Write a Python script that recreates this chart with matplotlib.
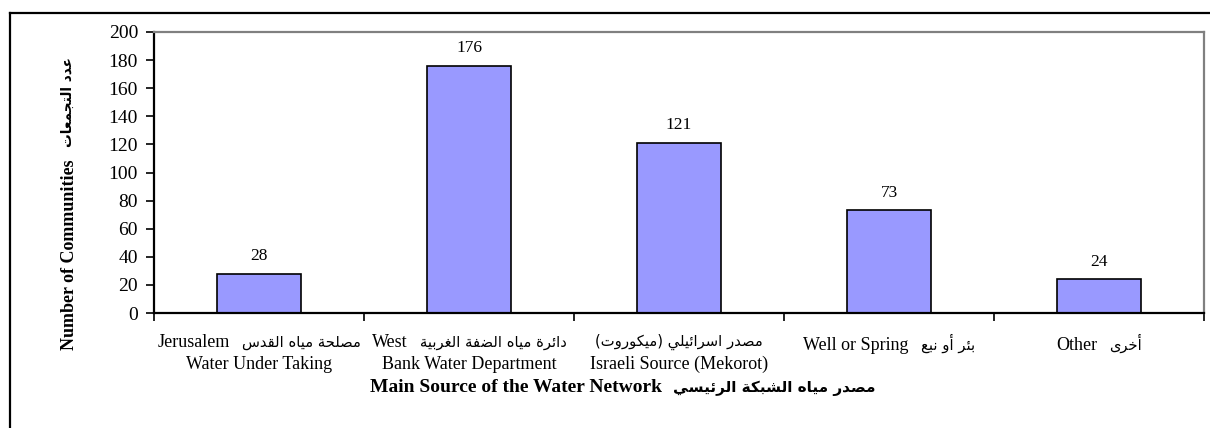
import matplotlib
matplotlib.use('Agg')
import matplotlib.pyplot as plt
from matplotlib.lines import Line2D
from matplotlib.offsetbox import TextArea, HPacker, VPacker, AnnotationBbox

# data
categories_en = ['Jerusalem', 'West', '', 'Well or Spring', 'Other']
categories_ar = ['مصلحة مياه القدس', 'دائرة مياه الضفة الغربية', 'مصدر اسرائيلي (ميكوروت)', 'بئر أو نبع', 'أخرى']
second_line = ['Water Under Taking', 'Bank Water Department', 'Israeli Source (Mekorot)', '', '']
values = [28, 176, 121, 73, 24]

ylabel_en = 'Number of Communities'
ylabel_ar = 'عدد التجمعات'
xlabel_en = 'Main Source of the Water Network'
xlabel_ar = 'مصدر مياه الشبكة الرئيسي'

# presentation forms: isolated, final, initial, medial
FORMS = {
    'ا': (0xFE8D, 0xFE8E, None, None),
    'أ': (0xFE83, 0xFE84, None, None),
    'ب': (0xFE8F, 0xFE90, 0xFE91, 0xFE92),
    'ة': (0xFE93, 0xFE94, None, None),
    'ت': (0xFE95, 0xFE96, 0xFE97, 0xFE98),
    'ج': (0xFE9D, 0xFE9E, 0xFE9F, 0xFEA0),
    'ح': (0xFEA1, 0xFEA2, 0xFEA3, 0xFEA4),
    'خ': (0xFEA5, 0xFEA6, 0xFEA7, 0xFEA8),
    'د': (0xFEA9, 0xFEAA, None, None),
    'ر': (0xFEAD, 0xFEAE, None, None),
    'س': (0xFEB1, 0xFEB2, 0xFEB3, 0xFEB4),
    'ش': (0xFEB5, 0xFEB6, 0xFEB7, 0xFEB8),
    'ص': (0xFEB9, 0xFEBA, 0xFEBB, 0xFEBC),
    'ض': (0xFEBD, 0xFEBE, 0xFEBF, 0xFEC0),
    'ع': (0xFEC9, 0xFECA, 0xFECB, 0xFECC),
    'غ': (0xFECD, 0xFECE, 0xFECF, 0xFED0),
    'ف': (0xFED1, 0xFED2, 0xFED3, 0xFED4),
    'ق': (0xFED5, 0xFED6, 0xFED7, 0xFED8),
    'ك': (0xFED9, 0xFEDA, 0xFEDB, 0xFEDC),
    'ل': (0xFEDD, 0xFEDE, 0xFEDF, 0xFEE0),
    'م': (0xFEE1, 0xFEE2, 0xFEE3, 0xFEE4),
    'ن': (0xFEE5, 0xFEE6, 0xFEE7, 0xFEE8),
    'ه': (0xFEE9, 0xFEEA, 0xFEEB, 0xFEEC),
    'و': (0xFEED, 0xFEEE, None, None),
    'ى': (0xFEEF, 0xFEF0, None, None),
    'ي': (0xFEF1, 0xFEF2, 0xFEF3, 0xFEF4),
    'ئ': (0xFE89, 0xFE8A, 0xFE8B, 0xFE8C),
}


def ar(text):
    # shape arabic letters and put them in visual order
    out = []
    for i, ch in enumerate(text):
        if ch not in FORMS:
            out.append(ch)
            continue
        iso, fin, ini, med = FORMS[ch]
        prev = text[i - 1] if i > 0 else ''
        nxt = text[i + 1] if i + 1 < len(text) else ''
        jp = prev in FORMS and FORMS[prev][2] is not None
        jn = ini is not None and nxt in FORMS
        if jp and jn:
            code = med
        elif jp:
            code = fin
        elif jn:
            code = ini
        else:
            code = iso
        out.append(chr(code))
    return ''.join(out)[::-1].translate(str.maketrans('()', ')('))


EN = ['Liberation Serif', 'DejaVu Sans']
AR = ['DejaVu Sans']
plt.rcParams['font.family'] = EN

fig = plt.figure(figsize=(12.1, 4.28), dpi=100)
ax = fig.add_axes([154 / 1210, 1 - 313 / 428, 1050 / 1210, 281 / 428])

x = list(range(len(values)))
bars = ax.bar(x, values, width=0.4, color='#9999FF', edgecolor='black', linewidth=1.2)
for xi, v in zip(x, values):
    ax.annotate(str(v), (xi, v), xytext=(0, 7), textcoords='offset points',
                ha='center', va='bottom', fontsize=12.5)

ax.set_xlim(-0.5, len(values) - 0.5)
ax.set_ylim(0, 200)
ax.set_yticks(range(0, 201, 20))
ax.tick_params(axis='y', labelsize=14, length=5.5, width=1.2, direction='out', pad=6)

ax.set_xticks(x)
ax.set_xticklabels([])
ax.tick_params(axis='x', length=0)
ax.set_xticks([i - 0.5 for i in range(len(values) + 1)], minor=True)
ax.tick_params(axis='x', which='minor', length=5.5, width=1.2, direction='out')

# category labels: english + arabic on the first line, english on the second
for xi, en, a, l2 in zip(x, categories_en, categories_ar, second_line):
    parts = []
    if en:
        parts.append(TextArea(en, textprops=dict(fontsize=13, family=EN)))
    parts.append(TextArea(ar(a), textprops=dict(fontsize=10.6, family=AR)))
    rows = [HPacker(children=parts, pad=0, sep=9, align='baseline')]
    if l2:
        rows.append(TextArea(l2, textprops=dict(fontsize=13, family=EN)))
    box = VPacker(children=rows, pad=0, sep=4, align='center')
    ab = AnnotationBbox(box, (xi, 0), xycoords=('data', 'axes fraction'),
                        xybox=(0, -15), boxcoords='offset points',
                        box_alignment=(0.5, 1), frameon=False)
    ax.add_artist(ab)

for s in ['left', 'bottom']:
    ax.spines[s].set_color('black')
    ax.spines[s].set_linewidth(1.6)
for s in ['top', 'right']:
    ax.spines[s].set_color('#808080')
    ax.spines[s].set_linewidth(1.6)

xl = HPacker(children=[TextArea(xlabel_en, textprops=dict(fontsize=14, fontweight='bold', family=EN)),
                       TextArea(ar(xlabel_ar), textprops=dict(fontsize=11, fontweight='bold', family=AR))],
             pad=0, sep=8, align='baseline')
fig.add_artist(AnnotationBbox(xl, (623 / 1210, 1 - 388 / 428), xycoords='figure fraction',
                              box_alignment=(0.5, 0.5), frameon=False))

fig.text(70 / 1210, 1 - 350 / 428, ylabel_en, rotation=90, ha='center', va='bottom',
         fontsize=13, fontweight='bold')
fig.text(68 / 1210, 1 - 147 / 428, ar(ylabel_ar), rotation=90, ha='center', va='bottom',
         fontsize=9.8, fontweight='bold', family=AR)

# outer frame (top and left edges visible)
fig.add_artist(Line2D([9.5 / 1210, 1], [1 - 13 / 428, 1 - 13 / 428], color='black', linewidth=1.6,
                      transform=fig.transFigure))
fig.add_artist(Line2D([9.5 / 1210, 9.5 / 1210], [0, 1 - 13 / 428], color='black', linewidth=1.6,
                      transform=fig.transFigure))

fig.savefig('out.png', dpi=100)
